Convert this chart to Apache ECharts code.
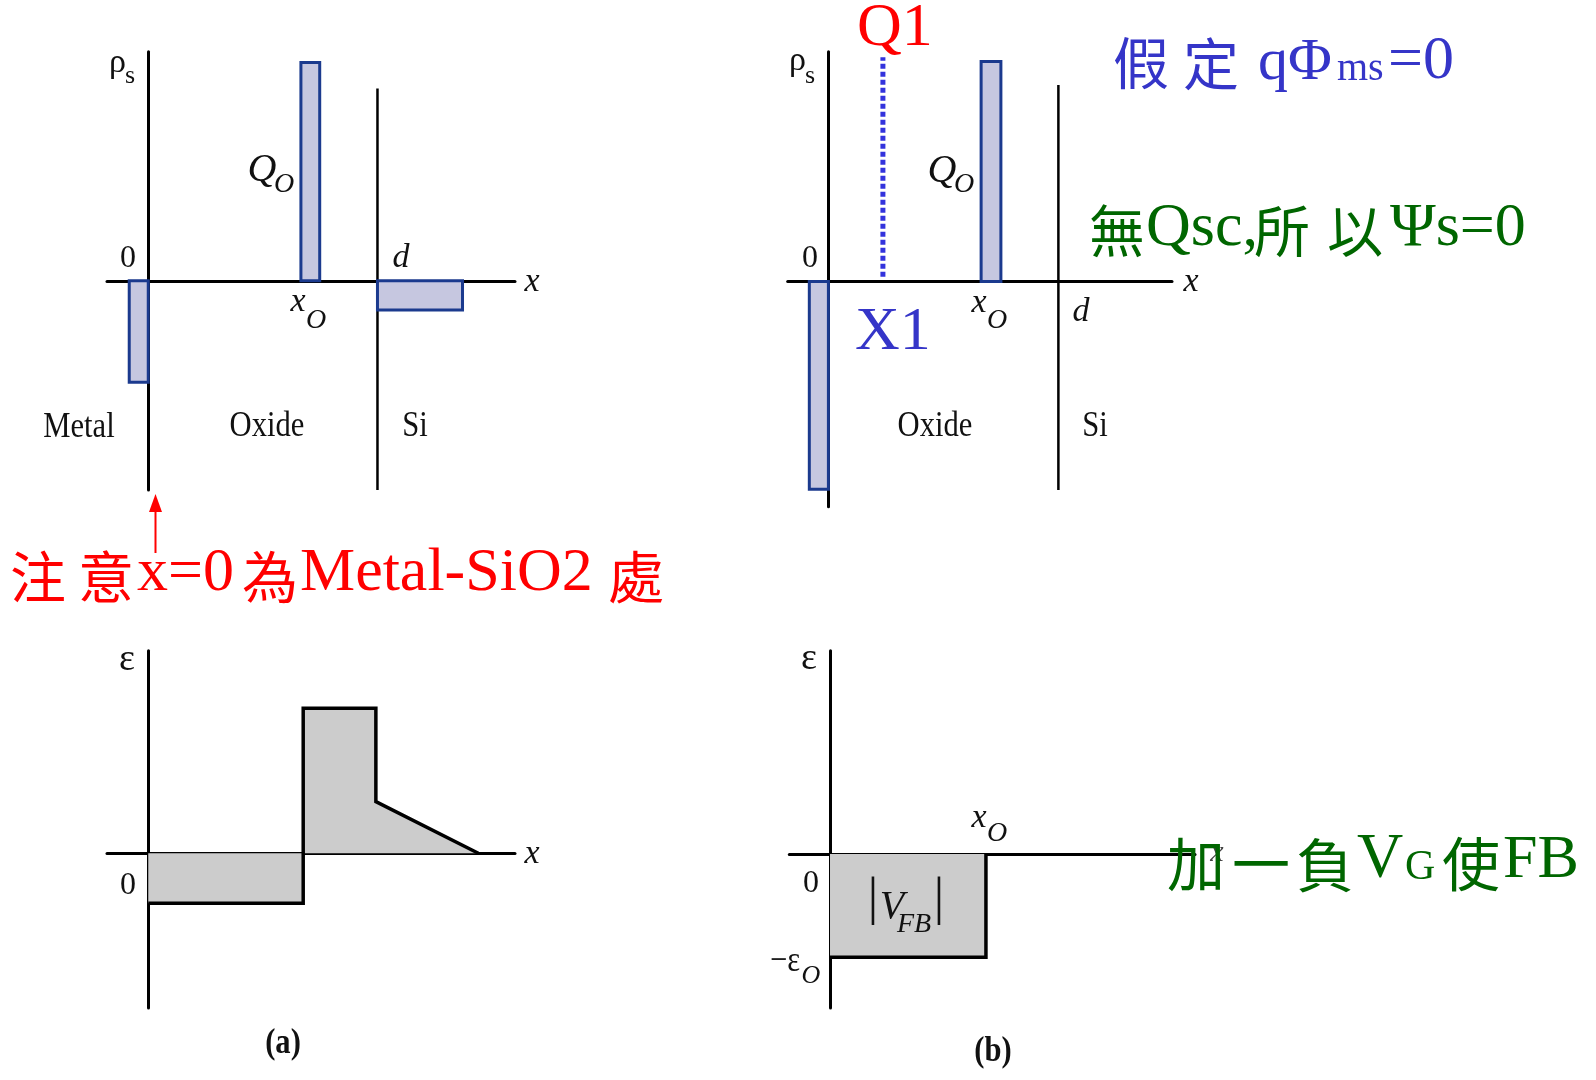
<!DOCTYPE html>
<html>
<head>
<meta charset="utf-8">
<title>MOS 氧化層電荷與電場分布</title>
<script src="https://cdn.jsdelivr.net/npm/echarts@6/dist/echarts.min.js"></script>
<style>
  html, body { margin: 0; padding: 0; background: #ffffff; }
  #chart { width: 1596px; height: 1080px; }
</style>
</head>
<body>
<div id="chart"></div>
<script>
// Positions along x are in units where the oxide thickness d = 10.

// (a) charge sheets: [x start, x end, ρs]
const chargeA = [[-0.83, 0, -4.65], [6.66, 7.48, 10], [10, 13.71, -1.34]];
// (b) charge sheets: [x start, x end, ρs]
const chargeB = [[-0.83, 0, -9.44], [6.64, 7.50, 10]];
// oxide / Si interface x = d
const interfaceA = [[10, -9.58], [10, 8.81]];
const interfaceB = [[10, -9.47], [10, 8.94]];
// trial charge sheet Q1 at X1
const sheetQ1 = [[2.37, 0.22], [2.37, 10.2]];
// electric field ε(x)
const fieldA = [[0, -3.45], [6.76, -3.45], [6.76, 10], [9.93, 10], [9.93, 3.56], [14.40, 0]];
const fieldB = [[0, -7.12], [6.78, -7.12], [6.78, 0]];

const SERIF = '"Liberation Serif", "Times New Roman", serif';
const CJK = '"Noto Sans CJK TC", "Noto Sans CJK SC", sans-serif';
const BLUE = '#3535c8';
const GREEN = '#006600';
const RED = '#ff0000';

function axisX(gi, min, max) {
  return {
    type: 'value', gridIndex: gi, min: min, max: max,
    axisLine: { show: true, onZero: true, lineStyle: { color: '#000', width: 3 } },
    axisTick: { show: false }, axisLabel: { show: false }, splitLine: { show: false }
  };
}
function axisY(gi, min, max) {
  return {
    type: 'value', gridIndex: gi, min: min, max: max,
    axisLine: { show: true, onZero: true, lineStyle: { color: '#000', width: 3 } },
    axisTick: { show: false }, axisLabel: { show: false }, splitLine: { show: false }
  };
}

// rectangle from the x axis up (or down) to ρs between two x positions
function chargeSeries(idx, data) {
  return {
    type: 'custom', xAxisIndex: idx, yAxisIndex: idx, data: data, z: 3,
    encode: { x: [0, 1], y: 2 },
    renderItem: function (params, api) {
      const p0 = api.coord([api.value(0), 0]);
      const p1 = api.coord([api.value(1), api.value(2)]);
      return {
        type: 'rect',
        shape: {
          x: Math.min(p0[0], p1[0]), y: Math.min(p0[1], p1[1]),
          width: Math.abs(p1[0] - p0[0]), height: Math.abs(p1[1] - p0[1])
        },
        style: { fill: '#c6c7e0', stroke: '#1b3a8e', lineWidth: 3 }
      };
    }
  };
}
function vline(idx, data, width, color, type) {
  return {
    type: 'line', xAxisIndex: idx, yAxisIndex: idx, data: data, symbol: 'none', z: 2,
    lineStyle: { color: color, width: width, type: type || 'solid', cap: 'butt' }
  };
}
function fieldSeries(idx, data) {
  return {
    type: 'line', xAxisIndex: idx, yAxisIndex: idx, data: data, symbol: 'none', z: 2,
    lineStyle: { color: '#000', width: 3.5, join: 'miter' },
    areaStyle: { color: '#cccccc', opacity: 1 }
  };
}

// text helpers: centred text, and text placed on a baseline
function txt(x, y, s, size, o) {
  o = o || {};
  const font = (o.italic ? 'italic ' : '') + (o.bold ? 'bold ' : '') + size + 'px ' + (o.family || SERIF);
  const al = o.align || 'center';
  return {
    type: 'text', x: x, y: y, z: 100, scaleX: o.sx || 1, scaleY: 1,
    style: {
      x: 0, y: 0, text: s, font: font, fill: o.color || '#111',
      align: al, textAlign: al, verticalAlign: 'middle', textVerticalAlign: 'middle'
    }
  };
}
function onBase(x, baseline, s, size, o) {
  return txt(x, baseline - 0.3375 * size, s, size, o);
}
function run(x, baseline, s, size, color, o) {
  return onBase(x, baseline, s, size, Object.assign({ align: 'left', color: color }, o || {}));
}
function han(cx, cy, s, size, color) {
  return txt(cx, cy, s, size, { family: CJK, color: color });
}

const LAB = { sx: 0.85 };
const IT = { italic: true };

const graphics = [
  // ---- (a) charge density
  onBase(109, 75, 'ρ', 34, { align: 'left' }),
  onBase(125, 85, 's', 26, { align: 'left' }),
  onBase(128, 269, '0', 32),
  onBase(401, 270, 'd', 34, IT),
  onBase(532, 294, 'x', 34, IT),
  onBase(262, 184, 'Q', 40, IT),
  onBase(284, 194, 'O', 28, IT),
  onBase(298, 314, 'x', 34, IT),
  onBase(316, 330, 'O', 28, IT),
  onBase(79, 440, 'Metal', 36, LAB),
  onBase(267, 439, 'Oxide', 36, LAB),
  onBase(415, 439, 'Si', 36, LAB),

  // ---- (b) charge density
  onBase(789, 73, 'ρ', 34, { align: 'left' }),
  onBase(805, 85, 's', 26, { align: 'left' }),
  onBase(810, 269, '0', 32),
  onBase(942, 185, 'Q', 40, IT),
  onBase(964, 194, 'O', 28, IT),
  onBase(979, 315, 'x', 34, IT),
  onBase(997, 330, 'O', 28, IT),
  onBase(1081, 324, 'd', 34, IT),
  onBase(1191, 294, 'x', 34, IT),
  onBase(935, 439, 'Oxide', 36, LAB),
  onBase(1095, 439, 'Si', 36, LAB),

  // ---- (a) field
  onBase(127, 673, 'ε', 38),
  onBase(128, 896, '0', 32),
  onBase(532, 866, 'x', 34, IT),
  onBase(283, 1056, '(a)', 36, { bold: true, sx: 0.85 }),

  // ---- (b) field
  onBase(809, 672, 'ε', 38),
  onBase(811, 894, '0', 32),
  onBase(785, 974, '−ε', 36, LAB),
  onBase(811, 985, 'O', 26, IT),
  onBase(979, 830, 'x', 34, IT),
  onBase(997, 843, 'O', 28, IT),
  onBase(873, 918, '|', 52),
  onBase(892, 921, 'V', 40, IT),
  onBase(914, 934, 'FB', 28, IT),
  onBase(939, 918, '|', 52),
  onBase(1217, 863, 'x', 30, { italic: true, color: '#444' }),
  onBase(993, 1064, '(b)', 36, { bold: true, sx: 0.85 }),

  // ---- Q1 sheet and its position
  run(857, 50, 'Q1', 62, RED),
  run(855, 354, 'X1', 62, BLUE),

  // ---- 假定 qΦms=0
  han(1141, 63, '假', 56, BLUE),
  han(1211, 64, '定', 56, BLUE),
  run(1258, 83, 'qΦ', 60, BLUE),
  run(1337, 83, 'ms', 40, BLUE),
  run(1388, 83, '=0', 62, BLUE),

  // ---- 無Qsc,所以Ψs=0
  han(1117, 231, '無', 56, GREEN),
  run(1146, 250, 'Qsc,', 62, GREEN),
  han(1282, 231, '所', 56, GREEN),
  han(1355, 231, '以', 56, GREEN),
  run(1390, 250, 'Ψs=0', 62, GREEN),

  // ---- 加一負VG使FB
  han(1196, 864, '加', 58, GREEN),
  han(1261, 864, '一', 58, GREEN),
  han(1325, 865, '負', 58, GREEN),
  run(1357, 882, 'V', 64, GREEN),
  run(1405, 882, 'G', 42, GREEN),
  han(1471, 864, '使', 58, GREEN),
  run(1503, 882, 'FB', 62, GREEN),

  // ---- 注意x=0為Metal-SiO2處 with arrow to x = 0
  han(38, 577, '注', 56, RED),
  han(106, 577, '意', 56, RED),
  run(137, 595, 'x=0', 62, RED),
  han(270, 577, '為', 56, RED),
  run(300, 595, 'Metal-SiO2', 62, RED),
  han(636, 577, '處', 56, RED),
  { type: 'line', z: 100, shape: { x1: 155.5, y1: 553, x2: 155.5, y2: 508 }, style: { stroke: RED, lineWidth: 2 } },
  { type: 'polygon', z: 100, shape: { points: [[155.5, 494], [149, 512], [162, 512]] }, style: { fill: RED } }
];

const chart = echarts.init(document.getElementById('chart'), null, { renderer: 'canvas' });
chart.setOption({
  animation: false,
  backgroundColor: '#ffffff',
  grid: [
    { left: 107, top: 51.7, width: 408, height: 438.3 },
    { left: 787.7, top: 51.7, width: 384.3, height: 455 },
    { left: 107, top: 650.7, width: 408, height: 357.3 },
    { left: 789.3, top: 650.7, width: 405.7, height: 357.3 }
  ],
  xAxis: [
    axisX(0, -1.8, 16.0),
    axisX(1, -1.77, 14.94),
    axisX(2, -1.8, 16.0),
    axisX(3, -1.77, 15.87)
  ],
  yAxis: [
    axisY(0, -9.58, 10.49),
    axisY(1, -10.23, 10.45),
    axisY(2, -10.67, 13.97),
    axisY(3, -10.62, 14.02)
  ],
  series: [
    chargeSeries(0, chargeA),
    vline(0, interfaceA, 2.5, '#000'),
    chargeSeries(1, chargeB),
    vline(1, interfaceB, 2.5, '#000'),
    vline(1, sheetQ1, 5, '#3333dd', [5, 3]),
    fieldSeries(2, fieldA),
    fieldSeries(3, fieldB)
  ],
  graphic: graphics
});
</script>
</body>
</html>
